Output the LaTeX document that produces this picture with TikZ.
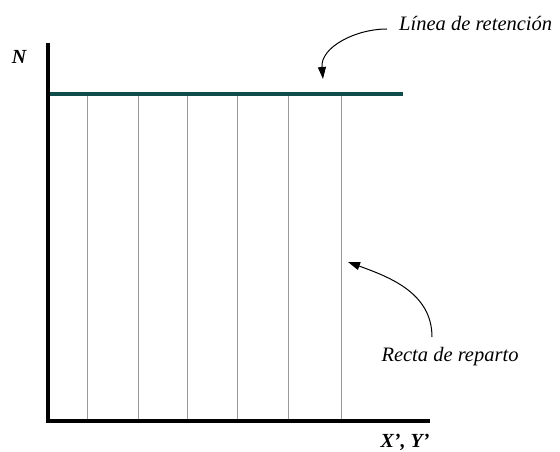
\documentclass[tikz,border=0pt]{standalone}
\usepackage{fontspec}
\setmainfont{Liberation Serif}
\usepackage{xcolor}
\usetikzlibrary{arrows.meta, positioning, calc}

\definecolor{retgreen}{HTML}{0E4D4A}

\begin{document}
\begin{tikzpicture}[
  x=1pt, y=-1pt,
  axis/.style={line width=4.5pt, line cap=rect},
  ret/.style={line width=4.5pt, retgreen},
  reparto/.style={line width=0.8pt, gray!80},
  lbl/.style={font=\fontsize{20.5}{22}\selectfont\itshape, inner sep=1pt},
  axlbl/.style={font=\fontsize{20}{22}\selectfont\bfseries\itshape, inner sep=1pt},
  callout/.style={-{Triangle[length=12pt, width=8pt]}, line width=1pt}
]
\useasboundingbox (0,0) rectangle (560,452);

% axes
\coordinate (o) at (48,421);
\coordinate (ytop) at (48,45);
\coordinate (xend) at (428,421);
\draw[axis] (ytop) -- (o) -- (xend);

% retention line and distribution lines
\coordinate (rs) at (50,94);
\coordinate (re) at (403,94);
\foreach \xx in {87,138,187,237,288,341}
  \draw[reparto] (\xx,96) -- (\xx,419);
\draw[ret] (rs) -- (re);

% labels
\node[axlbl] (n) at (19,57) {N};
\node[axlbl] (xy) at (405,442) {X', Y'};
\node[lbl, anchor=west] (lret) at (398,23) {Línea de retención};
\node[lbl] (lrep) at (450,357) {Recta de reparto};

% callouts
\coordinate (sret) at (387,29);
\coordinate (pret) at (323,79);
\coordinate (srep) at (432,337);
\coordinate (prep) at (348,262);
\draw[callout] (sret) to[out=180, in=95] (pret);
\draw[callout] (srep) to[out=90, in=-20] (prep);
\end{tikzpicture}
\end{document}
